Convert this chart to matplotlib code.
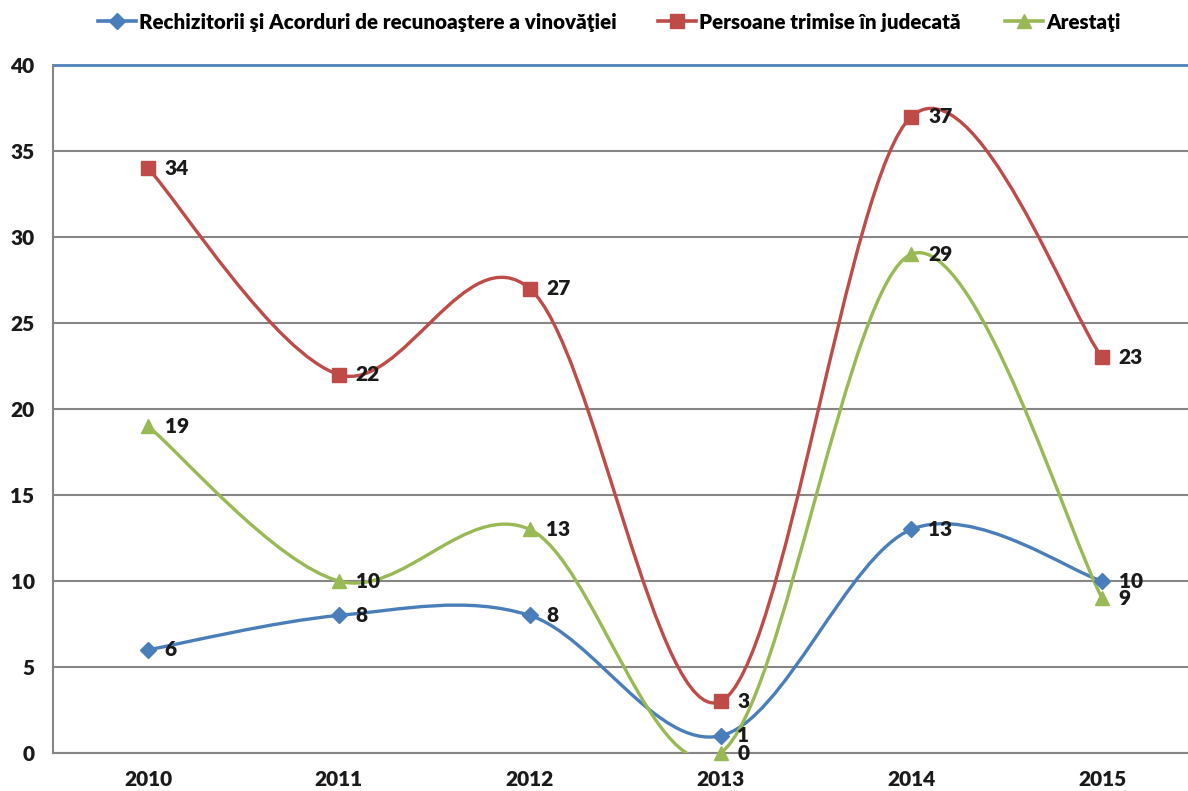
import matplotlib
matplotlib.use("Agg")
import matplotlib.pyplot as plt
from matplotlib.path import Path
from matplotlib.patches import PathPatch
from matplotlib.lines import Line2D

plt.rcParams['font.family'] = ['Lato', 'DejaVu Sans']
plt.rcParams['font.weight'] = 'heavy'

years = ['2010', '2011', '2012', '2013', '2014', '2015']
rechizitorii = [6, 8, 8, 1, 13, 10]
persoane = [34, 22, 27, 3, 37, 23]
arestati = [19, 10, 13, 0, 29, 9]

labels = ['Rechizitorii şi Acorduri de recunoaştere a vinovăţiei',
          'Persoane trimise în judecată',
          'Arestaţi']
colors = ['#4A7EBB', '#BE4B48', '#98B954']
markers = ['D', 's', '^']
msizes = [8, 10, 10]
legend_x = [0.0825, 0.554, 0.846]


def smooth_path(xs, ys):
    # excel-like smoothing: cubic bezier, catmull-rom control points
    pts = list(zip(xs, ys))
    verts = [pts[0]]
    codes = [Path.MOVETO]
    n = len(pts)
    for i in range(n - 1):
        p0 = pts[i - 1] if i > 0 else pts[i]
        p1 = pts[i]
        p2 = pts[i + 1]
        p3 = pts[i + 2] if i + 2 < n else pts[i + 1]
        c1 = (p1[0] + (p2[0] - p0[0]) / 6, p1[1] + (p2[1] - p0[1]) / 6)
        c2 = (p2[0] - (p3[0] - p1[0]) / 6, p2[1] - (p3[1] - p1[1]) / 6)
        verts += [c1, c2, p2]
        codes += [Path.CURVE4] * 3
    return Path(verts, codes)


fig = plt.figure(figsize=(11.88, 7.91), dpi=100)
ax = fig.add_axes([0.0443, 0.048, 0.9638, 0.8698])

x = list(range(len(years)))
series = [rechizitorii, persoane, arestati]
for vals, col, mk, ms in zip(series, colors, markers, msizes):
    ax.add_patch(PathPatch(smooth_path(x, vals), facecolor='none',
                           edgecolor=col, lw=2.4, zorder=3))
    ax.plot(x, vals, linestyle='none', marker=mk, ms=ms, color=col,
            zorder=4, clip_on=False)
    for xi, v in zip(x, vals):
        ax.annotate(str(v), (xi, v), xytext=(12, 0), textcoords='offset points',
                    va='center', ha='left', fontsize=15, fontweight='heavy',
                    color='#1a1a1a', zorder=5)

ax.set_xlim(-0.5, 5.5)
ax.set_ylim(0, 40)
ax.set_yticks(range(0, 41, 5))
ax.set_xticks(x)
ax.set_xticklabels(years)
ax.tick_params(axis='both', length=0, labelsize=15, colors='#1a1a1a')
ax.tick_params(axis='y', pad=13)
ax.tick_params(axis='x', pad=12)
for lab in ax.get_xticklabels() + ax.get_yticklabels():
    lab.set_fontweight('heavy')

ax.yaxis.grid(True, color='#868686', lw=1.5)
ax.set_axisbelow(True)
for s in ['right', 'top']:
    ax.spines[s].set_visible(False)
ax.spines['left'].set_color('#868686')
ax.spines['left'].set_linewidth(1.5)
ax.spines['bottom'].set_color('#868686')
ax.spines['bottom'].set_linewidth(1.5)
# blue line on top of plot area
ax.axhline(40, color='#4F81BD', lw=2, zorder=2, clip_on=False)

for lab, c, m, s, lx in zip(labels, colors, markers, msizes, legend_x):
    h = Line2D([], [], color=c, lw=2.6, marker=m, ms=s)
    fig.legend([h], [lab], loc='center left', bbox_to_anchor=(lx, 0.972),
               frameon=False, borderpad=0, borderaxespad=0, handlelength=1.85,
               handletextpad=0.15, prop={'weight': 'heavy', 'size': 14.8})

fig.savefig('out.png', dpi=100)
